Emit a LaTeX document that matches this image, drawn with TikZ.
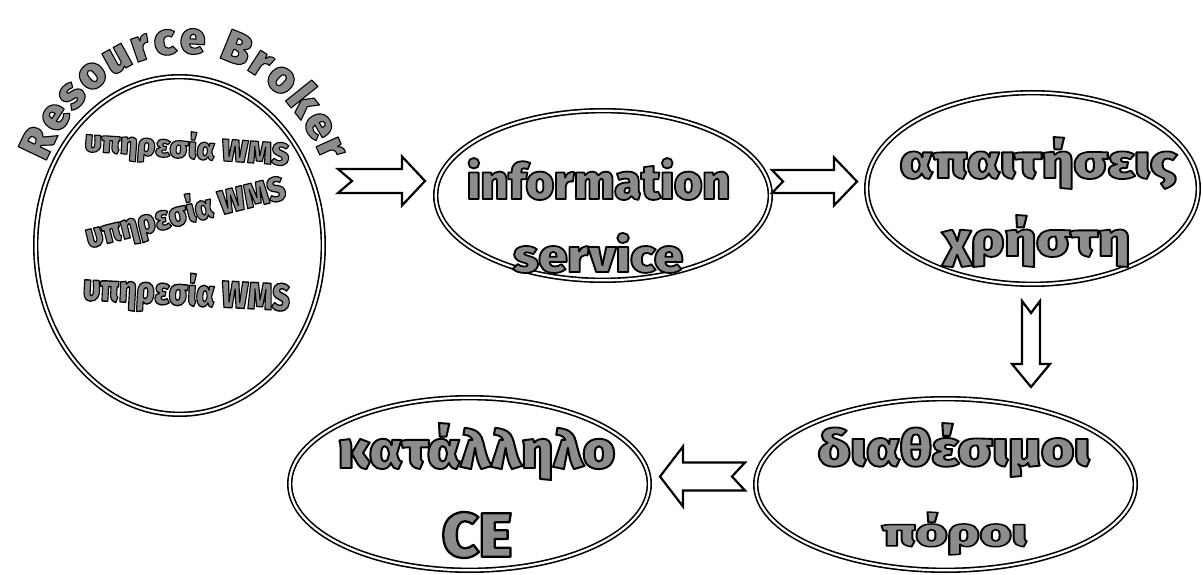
\documentclass[tikz,border=0pt]{standalone}
\usepackage{fontspec}
\setmainfont{DejaVu Sans}
\newfontfamily\wafont{Fira Sans}[UprightFont=* Black]
\usetikzlibrary{positioning}
\usetikzlibrary{shapes.geometric,decorations.text}

% grey heavy letters with a black outline
\newcommand{\wastyle}{\wafont\color{black!45}\special{pdf:literal direct 2 Tr 1.1 w 1 j 0 G}}
\newcommand{\wa}[3]{\resizebox*{#1pt}{#2pt}{{\fontsize{30}{30}\wastyle #3\special{pdf:literal direct 0 Tr}}}}

\tikzset{
  oval/.style={draw,ellipse,double,line width=1.6pt,double distance=2.2pt,inner sep=0pt},
  txt/.style={inner sep=0pt},
  arrowline/.style={draw,line width=2.2pt,fill=white,line join=miter},
  pics/notched/.style n args={4}{code={
    \draw[arrowline] (0,-#2) -- (#1-23,-#2) -- (#1-23,-#3) -- (#1,0) -- (#1-23,#3) -- (#1-23,#2) -- (0,#2) -- (#4,0) -- cycle;
  }}
}

\begin{document}
\begin{tikzpicture}[x=1pt,y=-1pt]
	\useasboundingbox (0,0) rectangle (1203,575);

	%Ellipses
	\node [oval,minimum width=287.6pt,minimum height=337.6pt] (broker) at (179.5,245.5) {};
	\node [oval,minimum width=334.6pt,minimum height=169.6pt] (info) at (603,195.5) {};
	\node [oval,minimum width=331.6pt,minimum height=191.6pt] (needs) at (1032.5,188.5) {};
	\node [oval,minimum width=379.6pt,minimum height=171.6pt] (avail) at (945.5,484.5) {};
	\node [oval,minimum width=359.6pt,minimum height=172.6pt] (ce) at (469.5,484) {};

	%Texts
	\path [decorate,decoration={text along path,text align=fit to path,
		text={|\fontsize{45}{45}\wastyle|Resource Broker}}]
		(46,162) arc[start angle=207.5,end angle=332.5,x radius=156,y radius=202];
	\node [txt,rotate=-4] (wms1) at (187,148.5) {\wa{205}{34}{υπηρεσία WMS}};
	\node [txt,rotate=14] (wms2) at (185.5,213) {\wa{205}{37}{υπηρεσία WMS}};
	\node [txt,rotate=-3] (wms3) at (186.5,293.5) {\wa{207}{41}{υπηρεσία WMS}};

	\node [txt] (info1) at (598.5,179) {\wa{263}{42}{information}};
	\node [txt] (info2) at (598,253) {\wa{170}{40}{service}};
	\node [txt] (needs1) at (1038.5,163) {\wa{277}{52}{απαιτήσεις}};
	\node [txt] (needs2) at (1036.5,241) {\wa{187}{52}{χρήστη}};
	\node [txt] (avail1) at (954,450) {\wa{272}{54}{διαθέσιμοι}};
	\node [txt] (avail2) at (954.5,533.5) {\wa{145}{43}{πόροι}};
	\node [txt] (ce1) at (476.5,451.5) {\wa{277}{57}{κατάλληλο}};
	\node [txt] (ce2) at (477,535) {\wa{70}{46}{CE}};

	%Arrows
	\pic at (338,181) {notched={87}{12}{24.5}{14}};
	\pic at (772,181.5) {notched={85}{11.5}{24}{11}};
	\pic [rotate=-90] at (1031,301) {notched={86}{9}{19}{12}};
	\pic [rotate=180] at (745,476.5) {notched={85}{14}{30}{13}};
\end{tikzpicture}
\end{document}
